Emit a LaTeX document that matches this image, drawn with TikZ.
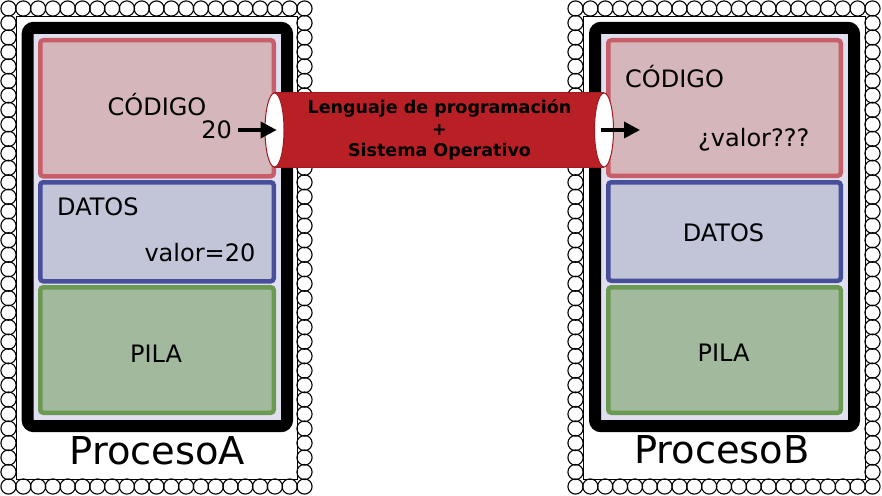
\documentclass[tikz,border=0pt]{standalone}
\usepackage{fontspec}
\setmainfont{DejaVu Sans}
\usetikzlibrary{arrows.meta,shapes.geometric}
\definecolor{codefill}{HTML}{D5B6BA}
\definecolor{codeline}{HTML}{C85E68}
\definecolor{datfill}{HTML}{C2C4D8}
\definecolor{datline}{HTML}{474F9B}
\definecolor{pilfill}{HTML}{A3B99D}
\definecolor{pilline}{HTML}{6A9A52}
\definecolor{lav}{HTML}{DFDFF0}
\definecolor{pipered}{HTML}{B92025}
\definecolor{pipeedge}{HTML}{A01A1F}
\newcommand\fsbox{\fontsize{24}{28}\selectfont}
\newcommand\fsbig{\fontsize{38.4}{44}\selectfont}
\newcommand\fspipe{\fontsize{17.5}{21}\selectfont\bfseries}
\tikzset{
  scal/.style={draw=black, line width=1.1pt},
  blk/.style={draw=black, line width=12pt, rounded corners=6pt, fill=lav, inner sep=0pt},
  membox/.style={line width=4.5pt, rounded corners=3pt, inner sep=0pt},
  codebox/.style={membox, draw=codeline, fill=codefill},
  datbox/.style={membox, draw=datline, fill=datfill},
  pilbox/.style={membox, draw=pilline, fill=pilfill},
  lbl/.style={inner sep=0pt, font=\fsbox},
  pipetxt/.style={inner sep=0pt, font=\fspipe},
  pipeend/.style={ellipse, draw=pipeedge, line width=1pt, fill=white, inner sep=0pt, minimum width=19pt, minimum height=74pt},
  arr/.style={line width=3.5pt, -{Triangle[length=16pt,width=16pt]}}
}
\begin{document}
\begin{tikzpicture}[x=1pt,y=-1pt]
\useasboundingbox (0,0) rectangle (882,495);
% scalloped frames
\foreach \X/\XR in {16/297,583/865}{
  \draw[line width=0.8pt] (\X,16) rectangle (\XR,479);
  \pgfmathsetmacro\wd{\XR-\X+15}
  \pgfmathtruncatemacro\nn{round(\wd/14.6)}
  \foreach \i in {0,...,\nn}{
    \draw[scal] ({\X-7.5+\i*\wd/\nn},8.5) circle[radius=7.6];
    \draw[scal] ({\X-7.5+\i*\wd/\nn},486.5) circle[radius=7.6];
  }
  \foreach \j in {1,...,32}{
    \draw[scal] ({\X-7.5},{8.5+\j*478/33}) circle[radius=7.6];
    \draw[scal] ({\XR+7.5},{8.5+\j*478/33}) circle[radius=7.6];
  }
}
% process A
\node[blk, minimum width=259.3pt, minimum height=398.3pt] (procA) at (157.35,227) {};
\node[codebox, minimum width=233.5pt, minimum height=136pt] (codeA) at (157,108.25) {};
\node[datbox, minimum width=233.5pt, minimum height=99pt] (datA) at (157,231.75) {};
\node[pilbox, minimum width=233.5pt, minimum height=125.5pt] (pilA) at (157,350) {};
\node[lbl, anchor=base] (codeAt) at (157,115) {CÓDIGO};
\node[lbl, anchor=base east] (twenty) at (232,138) {20};
\node[lbl, anchor=base west] (datAt) at (57,215) {DATOS};
\node[lbl, anchor=base east] (valA) at (255.5,261.7) {valor=20};
\node[lbl, anchor=base] (pilAt) at (156,362) {PILA};
\node[inner sep=0pt, font=\fsbig, anchor=base] (nameA) at (157.5,464.5) {ProcesoA};
% process B
\node[blk, minimum width=259pt, minimum height=398.3pt] (procB) at (724.5,227) {};
\node[codebox, minimum width=232.5pt, minimum height=135.5pt] (codeB) at (724.5,108) {};
\node[datbox, minimum width=232.5pt, minimum height=98.5pt] (datB) at (724.5,231.5) {};
\node[pilbox, minimum width=232.5pt, minimum height=125.5pt] (pilB) at (724.5,350) {};
\node[lbl, anchor=base west] (codeBt) at (625,87.3) {CÓDIGO};
\node[lbl, anchor=base west] (valB) at (698,146.7) {¿valor???};
\node[lbl, anchor=base] (datBt) at (723.5,241) {DATOS};
\node[lbl, anchor=base] (pilBt) at (723.5,361.7) {PILA};
\node[inner sep=0pt, font=\fsbig, anchor=base] (nameB) at (722,463.5) {ProcesoB};
% pipe
\node[fill=pipered, inner sep=0pt, minimum width=329.5pt, minimum height=74pt] (pipe) at (439.25,130) {};
\draw[pipeedge, line width=1pt] (pipe.north west) -- (pipe.north east);
\draw[pipeedge, line width=1pt] (pipe.south west) -- (pipe.south east);
\node[pipeend] (endL) at (274.5,130) {};
\node[pipeend] (endR) at (604,130) {};
\node[pipetxt, anchor=base] (p1) at (439.5,113.3) {Lenguaje de programación};
\node[pipetxt, anchor=base] (p2) at (439.5,135.5) {+};
\node[pipetxt, anchor=base] (p3) at (439.5,156.7) {Sistema Operativo};
% arrows
\coordinate (a1) at (238,130);
\coordinate (a2) at (640,130);
\draw[arr] (a1) -- ([xshift=2.2pt]endL.center);
\draw[arr] ([xshift=-3.3pt]endR.center) -- (a2);
\end{tikzpicture}
\end{document}
